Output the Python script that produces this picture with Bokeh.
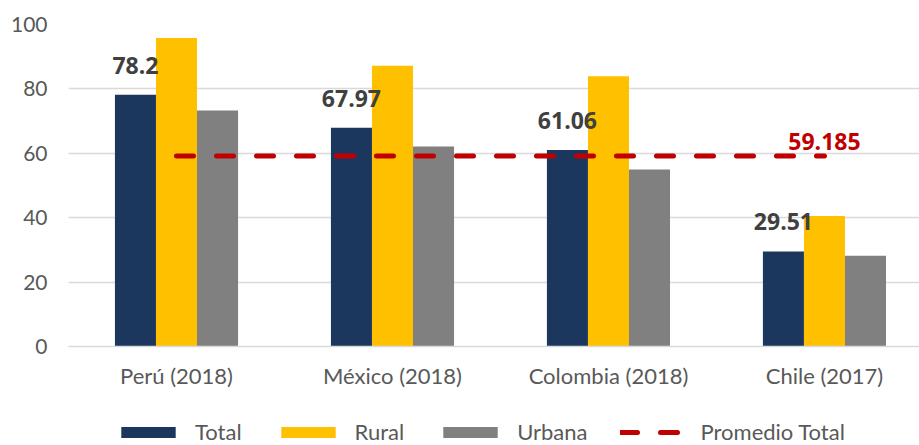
from bokeh.plotting import figure
from bokeh.layouts import column
from bokeh.core.properties import value
from bokeh.models import (Range1d, FixedTicker, ColumnDataSource, LabelSet, Label,
                          Legend, LegendItem)
from bokeh.embed import file_html
from bokeh.resources import INLINE

categories = ["Perú (2018)", "México (2018)", "Colombia (2018)", "Chile (2017)"]
total = [78.2, 67.97, 61.06, 29.51]
rural = [95.8, 87.2, 83.9, 40.5]
urbana = [73.3, 62.1, 55.0, 28.2]
promedio_total = 59.185
y_ticks = [0, 20, 40, 60, 80, 100]
series_names = ["Total", "Rural", "Urbana", "Promedio Total"]

C_TOTAL = "#1B375E"
C_RURAL = "#FFC000"
C_URB = "#808080"
C_RED = "#C00000"
FONT = "Lato"
BFONT = "Open Sans"

centers = [i + 0.5 for i in range(len(categories))]
W = 0.19

p = figure(width=919, height=400, output_backend="svg", toolbar_location=None,
           x_range=Range1d(0, 3.94), y_range=Range1d(0, 100),
           min_border_left=68, min_border_right=0, min_border_top=24,
           min_border_bottom=54)
p.outline_line_color = None
p.background_fill_color = "white"
p.border_fill_color = "white"

src = ColumnDataSource(dict(
    xt=[c - W for c in centers], xr=centers, xu=[c + W for c in centers],
    total=total, rural=rural, urbana=urbana,
    lbl=[f"{v:g}" for v in total],
))

r_t = p.vbar(x="xt", top="total", width=W, bottom=0, source=src, fill_color=C_TOTAL, line_color=None)
r_r = p.vbar(x="xr", top="rural", width=W, bottom=0, source=src, fill_color=C_RURAL, line_color=None)
r_u = p.vbar(x="xu", top="urbana", width=W, bottom=0, source=src, fill_color=C_URB, line_color=None)
r_l = p.line(x=[centers[0], centers[-1]], y=[promedio_total, promedio_total],
             line_color=C_RED, line_width=5, line_dash="17 23", line_cap="round")

labels = LabelSet(x="xt", y="total", text="lbl", source=src, y_offset=21,
                  text_align="center", text_baseline="alphabetic",
                  text_font=value(BFONT), text_font_style="bold", text_font_size="23px",
                  text_color="#404040")
p.add_layout(labels)
p.add_layout(Label(x=centers[-1], y=promedio_total, text=f"{promedio_total:g}", y_offset=14,
                   text_align="center", text_baseline="alphabetic",
                   text_font=BFONT, text_font_style="bold", text_font_size="23px",
                   text_color=C_RED))

# axes
p.xaxis.ticker = FixedTicker(ticks=centers)
p.xaxis.major_label_overrides = {c: n for c, n in zip(centers, categories)}
p.xaxis.axis_line_color = "#D9D9D9"
p.xaxis.axis_line_width = 1.5
p.xaxis.major_tick_line_color = None
p.xaxis.minor_tick_line_color = None
p.xaxis.major_label_text_font = FONT
p.xaxis.major_label_text_font_size = "22px"
p.xaxis.major_label_text_color = "#595959"
p.xaxis.major_label_standoff = 9

p.yaxis.ticker = FixedTicker(ticks=y_ticks)
p.yaxis.axis_line_color = None
p.yaxis.major_tick_line_color = None
p.yaxis.minor_tick_line_color = None
p.yaxis.major_label_text_font = FONT
p.yaxis.major_label_text_font_size = "21px"
p.yaxis.major_label_text_color = "#595959"
p.yaxis.major_label_standoff = 15

p.xgrid.grid_line_color = None
p.ygrid.grid_line_color = "#D9D9D9"
p.ygrid.grid_line_width = 1.5
p.ygrid.ticker = FixedTicker(ticks=y_ticks)

# legend strip (separate figure below the chart)
lg = figure(width=919, height=45, output_backend="svg", toolbar_location=None,
            x_range=Range1d(0, 1), y_range=Range1d(0, 1),
            min_border_left=0, min_border_right=0, min_border_top=0, min_border_bottom=0,
            x_axis_type=None, y_axis_type=None)
lg.outline_line_color = None
lg.grid.grid_line_color = None
dummy = ColumnDataSource(dict(x=[-10, -9], y=[-10, -9]))
l_t = lg.vbar(x="x", top="y", width=0.1, source=dummy, fill_color=C_TOTAL, line_color=None)
l_r = lg.vbar(x="x", top="y", width=0.1, source=dummy, fill_color=C_RURAL, line_color=None)
l_u = lg.vbar(x="x", top="y", width=0.1, source=dummy, fill_color=C_URB, line_color=None)
l_l = lg.line(x="x", y="y", source=dummy, line_color=C_RED, line_width=5,
              line_dash="17 23", line_cap="round")

legend = Legend(items=[
    LegendItem(label=series_names[0], renderers=[l_t]),
    LegendItem(label=series_names[1], renderers=[l_r]),
    LegendItem(label=series_names[2], renderers=[l_u]),
    LegendItem(label=series_names[3], renderers=[l_l]),
], orientation="horizontal", location=(46, 0), glyph_width=68, glyph_height=14,
    label_standoff=13, spacing=32, padding=0, margin=0,
    border_line_color=None, background_fill_alpha=0,
    label_text_font=FONT, label_text_font_size="22px", label_text_color="#595959")
lg.add_layout(legend, "center")

layout = column(p, lg, spacing=0)
open("out.html", "w").write(file_html(layout, INLINE))
